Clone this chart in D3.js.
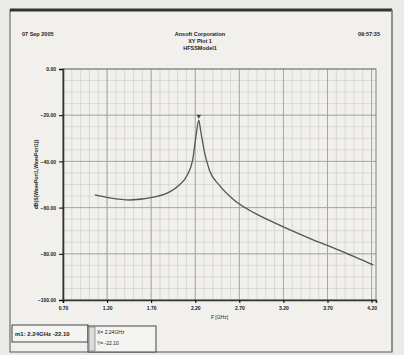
<!DOCTYPE html>
<html>
<head>
<meta charset="utf-8">
<script src="https://cdn.jsdelivr.net/npm/d3@7"></script>
<style>
  body { margin: 0; background: #ecebe8; }
  text { font-family: "Liberation Sans", Arial, sans-serif; fill: #222; }
</style>
</head>
<body>
<div id="chart"></div>
<script>
// frequency sweep (GHz) and response (dB)
const freq = [1.06, 1.23, 1.46, 1.74, 1.91, 2.02, 2.11, 2.17, 2.21, 2.24, 2.26, 2.30, 2.36, 2.47, 2.64, 2.87, 3.15, 3.49, 3.83, 4.17, 4.22];
const dbVal = [-54.5, -55.8, -56.7, -55.4, -53.2, -50.2, -45.9, -39.4, -28.6, -22.1, -26.4, -35.1, -43.7, -50.2, -56.7, -62.3, -67.5, -73.2, -78.4, -84.0, -84.8];
const xTicks = [0.70, 1.20, 1.70, 2.20, 2.70, 3.20, 3.70, 4.20];
const yTicks = [0, -20, -40, -60, -80, -100];
const headerLeft = "07 Sep 2005";
const headerRight = "09:57:35";
const titleLines = ["Ansoft Corporation", "XY Plot 1", "HFSSModel1"];
const markerText = "m1: 2.24GHz -22.10";
const markerRows = ["X= 2.24GHz", "Y= -22.10"];

const W = 404, H = 355;
const margin = {top: 69, right: 28, bottom: 55, left: 63};

const svg = d3.select("#chart").append("svg")
  .attr("width", W).attr("height", H);

// outer sheet frame
svg.append("rect").attr("x", 10).attr("y", 10).attr("width", 382).attr("height", 342)
  .attr("fill", "#f1f0ed").attr("stroke", "#555").attr("stroke-width", 1);
svg.append("line").attr("x1", 10).attr("x2", 392).attr("y1", 10).attr("y2", 10)
  .attr("stroke", "#333").attr("stroke-width", 3);
svg.append("line").attr("x1", 392).attr("x2", 392).attr("y1", 10).attr("y2", 352)
  .attr("stroke", "#888").attr("stroke-width", 1.5);

// header
svg.append("text").attr("x", 22).attr("y", 36).attr("font-size", 5.5).attr("font-weight", "bold").text(headerLeft);
svg.append("text").attr("x", 380).attr("y", 36).attr("text-anchor", "end").attr("font-size", 5.5).attr("font-weight", "bold").text(headerRight);
svg.selectAll(".ttl").data(titleLines).join("text")
  .attr("x", 200).attr("y", (d, i) => 36 + i * 7)
  .attr("text-anchor", "middle").attr("font-size", 5.5).attr("font-weight", "bold").text(d => d);

const width = W - margin.left - margin.right;
const height = H - margin.top - margin.bottom;
const g = svg.append("g").attr("transform", "translate(" + margin.left + "," + margin.top + ")");

const x = d3.scaleLinear().domain([0.70, 4.25]).range([0, width]);
const y = d3.scaleLinear().domain([-100, 0]).range([height, 0]);

// minor grid
g.append("g").selectAll("line").data(d3.range(0.8, 4.25, 0.1)).join("line")
  .attr("x1", d => x(d)).attr("x2", d => x(d)).attr("y1", 0).attr("y2", height)
  .attr("stroke", "#c9c9c6").attr("stroke-width", 0.6);
g.append("g").selectAll("line").data(d3.range(-95, 0, 5)).join("line")
  .attr("x1", 0).attr("x2", width).attr("y1", d => y(d)).attr("y2", d => y(d))
  .attr("stroke", "#c9c9c6").attr("stroke-width", 0.6);
// major grid
g.append("g").selectAll("line").data(xTicks).join("line")
  .attr("x1", d => x(d)).attr("x2", d => x(d)).attr("y1", 0).attr("y2", height)
  .attr("stroke", "#9a9a98").attr("stroke-width", 0.8);
g.append("g").selectAll("line").data(yTicks).join("line")
  .attr("x1", 0).attr("x2", width).attr("y1", d => y(d)).attr("y2", d => y(d))
  .attr("stroke", "#9a9a98").attr("stroke-width", 0.8);

// plot border
g.append("rect").attr("width", width).attr("height", height)
  .attr("fill", "none").attr("stroke", "#666").attr("stroke-width", 0.8);

// axes
const xAxis = g.append("g").attr("transform", "translate(0," + height + ")")
  .call(d3.axisBottom(x).tickValues(xTicks).tickFormat(d3.format(".2f")).tickSize(3));
const yAxis = g.append("g")
  .call(d3.axisLeft(y).tickValues(yTicks).tickFormat(d3.format(".2f")).tickSize(4));
[xAxis, yAxis].forEach(a => {
  a.select(".domain").attr("stroke", "#333").attr("stroke-width", 1.6);
  a.selectAll("text").attr("font-size", 5).attr("font-weight", "bold");
});

g.append("text").attr("x", width / 2).attr("y", height + 19).attr("text-anchor", "middle")
  .attr("font-size", 5).text("F [GHz]");
g.append("text").attr("transform", "translate(-25," + (height / 2 - 10) + ") rotate(-90)")
  .attr("text-anchor", "middle").attr("font-size", 5).attr("font-weight", "bold")
  .text("dB(S(WavePort1,WavePort1))");

// curve
const pts = freq.map((f, i) => [f, dbVal[i]]);
g.append("path").datum(pts)
  .attr("fill", "none").attr("stroke", "#555").attr("stroke-width", 1.3)
  .attr("d", d3.line().x(d => x(d[0])).y(d => y(d[1])).curve(d3.curveMonotoneX));

// marker at peak
const pk = pts[d3.maxIndex(dbVal)];
g.append("path").attr("d", d3.symbol(d3.symbolTriangle, 10)())
  .attr("transform", "translate(" + x(pk[0]) + "," + (y(pk[1]) - 4) + ") rotate(180)")
  .attr("fill", "#444");

// marker boxes
svg.append("rect").attr("x", 12).attr("y", 325).attr("width", 76).attr("height", 17)
  .attr("fill", "#f4f4f2").attr("stroke", "#444");
svg.append("text").attr("x", 15).attr("y", 336).attr("font-size", 6).attr("font-weight", "bold").text(markerText);
svg.append("rect").attr("x", 88).attr("y", 326).attr("width", 68).attr("height", 26)
  .attr("fill", "#f4f4f2").attr("stroke", "#444");
svg.append("rect").attr("x", 89).attr("y", 327).attr("width", 6).attr("height", 24)
  .attr("fill", "#ddd").attr("stroke", "#666").attr("stroke-width", 0.6);
svg.selectAll(".mrow").data(markerRows).join("text")
  .attr("x", 97).attr("y", (d, i) => 334 + i * 11)
  .attr("font-size", 5).text(d => d);
</script>
</body>
</html>
